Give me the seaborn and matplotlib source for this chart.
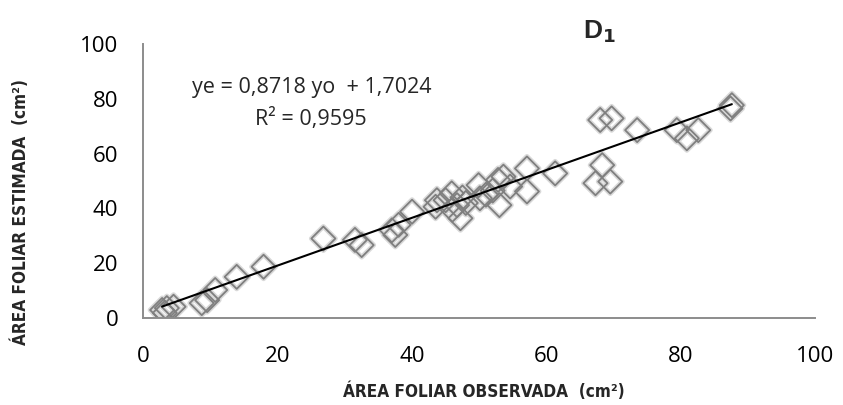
import numpy as np
import matplotlib
matplotlib.use("Agg")
import matplotlib.pyplot as plt
import matplotlib.patheffects as pe
import seaborn as sns

area_obs = [2.8, 3.5, 4.5, 3.2, 8.7, 9.5, 10.7, 13.9, 17.9,
            26.8, 31.5, 32.5, 37.0, 37.5, 38.0, 40.0, 43.7, 43.5,
            45.9, 46.7, 47.2, 45.0, 46.0, 47.5, 48.0, 50.1, 49.9,
            51.0, 52.0, 53.0, 52.8, 53.6, 54.6, 57.1, 57.1, 61.3,
            68.0, 69.7, 73.5, 79.4, 80.9, 82.6, 87.6, 87.4,
            68.3, 67.3, 69.5]
area_est = [2.9, 3.6, 4.1, 1.8, 5.4, 6.5, 10.2, 15.0, 18.7,
            29.0, 28.5, 26.6, 32.0, 30.3, 34.0, 38.8, 43.0, 40.6,
            45.5, 41.2, 36.4, 43.0, 39.5, 44.0, 42.0, 43.7, 48.5,
            45.0, 46.5, 41.2, 50.4, 51.6, 48.0, 46.2, 54.6, 52.8,
            72.3, 72.9, 68.6, 68.6, 65.6, 68.6, 77.7, 76.5,
            55.8, 49.2, 49.8]

slope, intercept = 0.8718, 1.7024
r2 = 0.9595

sns.set_theme(style="white")
plt.rcParams['font.family'] = ['Open Sans', 'DejaVu Sans']

fig = plt.figure(figsize=(8.43, 4.05), dpi=100)
ax = fig.add_axes([0.170, 0.215, 0.797, 0.676])

sns.scatterplot(x=area_obs, y=area_est, ax=ax, marker="D", s=150,
                facecolor="none", edgecolor="#7f7f7f", linewidth=1.3)
# soft grey halo to imitate the shadowed Excel markers
for coll in ax.collections:
    coll.set_path_effects([pe.Stroke(linewidth=3.5, foreground="#d9d9d9"), pe.Normal()])

xl = np.array([min(area_obs), max(area_obs)])
sns.lineplot(x=xl, y=slope * xl + intercept, ax=ax, color="black", linewidth=1.5)

ax.set_xlim(0, 100)
ax.set_ylim(0, 100)
ax.set_xticks(range(0, 101, 20))
ax.set_yticks(range(0, 101, 20))
ax.tick_params(axis="x", length=0, labelsize=16, colors="black", pad=20)
ax.tick_params(axis="y", length=0, labelsize=16, colors="black", pad=18)
for s in ["top", "right"]:
    ax.spines[s].set_visible(False)
for s in ["left", "bottom"]:
    ax.spines[s].set_color("#8c8c8c")
    ax.spines[s].set_linewidth(1.4)

lab = dict(fontsize=12.3, fontweight="bold", family="DejaVu Sans", fontstretch="condensed")
ax.set_xlabel("ÁREA FOLIAR OBSERVADA  (cm²)", **lab)
ax.set_ylabel("ÁREA FOLIAR ESTIMADA  (cm²)", **lab)
ax.xaxis.set_label_coords(0.507, -0.235)
ax.yaxis.set_label_coords(-0.168, 0.387)

ax.text(25, 84, "ye = 0,8718 yo  + 1,7024", fontsize=15.5, ha="center", va="center")
ax.text(25, 72.5, f"R² = {r2:.4f}".replace(".", ","), fontsize=15.5, ha="center", va="center")

fig.text(0.711, 0.922, "D$_\\mathbf{1}$", fontsize=19, fontweight="bold", ha="center",
         va="center", family="Liberation Sans")

fig.savefig("out.png", dpi=100, facecolor="white")
